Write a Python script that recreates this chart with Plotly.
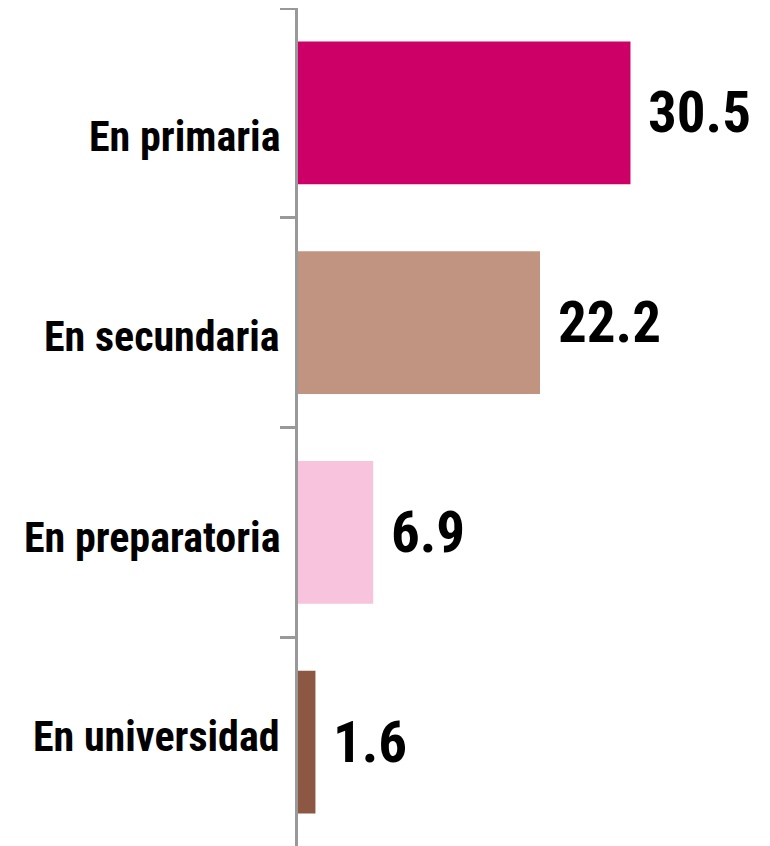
import plotly.graph_objects as go

categorias = ['En primaria', 'En secundaria', 'En preparatoria', 'En universidad']
valores = [30.5, 22.2, 6.9, 1.6]
colores = ['#CC0066', '#C09480', '#F8C3DC', '#8C5843']
etiquetas = ['30.5', '22.2', '6.9', '1.6']

fuente = 'Liberation Sans Narrow, Arial Narrow, Roboto Condensed, Arial, sans-serif'

# los nombres de las categorías no quedan centrados en las barras en el original
desplaz_nombres = [-24, -14, -5, 6]

fig = go.Figure()
fig.add_bar(
    x=valores, y=categorias, orientation='h',
    marker=dict(color=colores, line=dict(width=0)),
    width=0.68, showlegend=False, hoverinfo='skip'
)

for cat, val, txt, dy in zip(categorias, valores, etiquetas, desplaz_nombres):
    fig.add_annotation(
        x=val, y=cat, text='<b>' + txt + '</b>', showarrow=False,
        xanchor='left', xshift=16, yshift=0,
        font=dict(family=fuente, size=57, color='black')
    )
    fig.add_annotation(
        x=0, xref='paper', y=cat, text='<b>' + cat + '</b>', showarrow=False,
        xanchor='right', xshift=-16, yshift=dy,
        font=dict(family=fuente, size=42, color='black')
    )

fig.update_layout(
    width=762, height=839,
    margin=dict(l=290, r=0, t=0, b=0, autoexpand=False),
    paper_bgcolor='white', plot_bgcolor='white',
    font=dict(family=fuente, color='black'),
    xaxis=dict(range=[0, 43.3], visible=False, fixedrange=True, automargin=False),
    yaxis=dict(
        type='category', categoryorder='array', categoryarray=categorias,
        autorange='reversed', automargin=False,
        showline=True, linecolor='#999999', linewidth=2.5,
        ticks='outside', tickson='boundaries', ticklen=15, tickwidth=2.5, tickcolor='#999999',
        showticklabels=False,
        showgrid=False, zeroline=False,
    ),
)

fig.write_html('out.html')
